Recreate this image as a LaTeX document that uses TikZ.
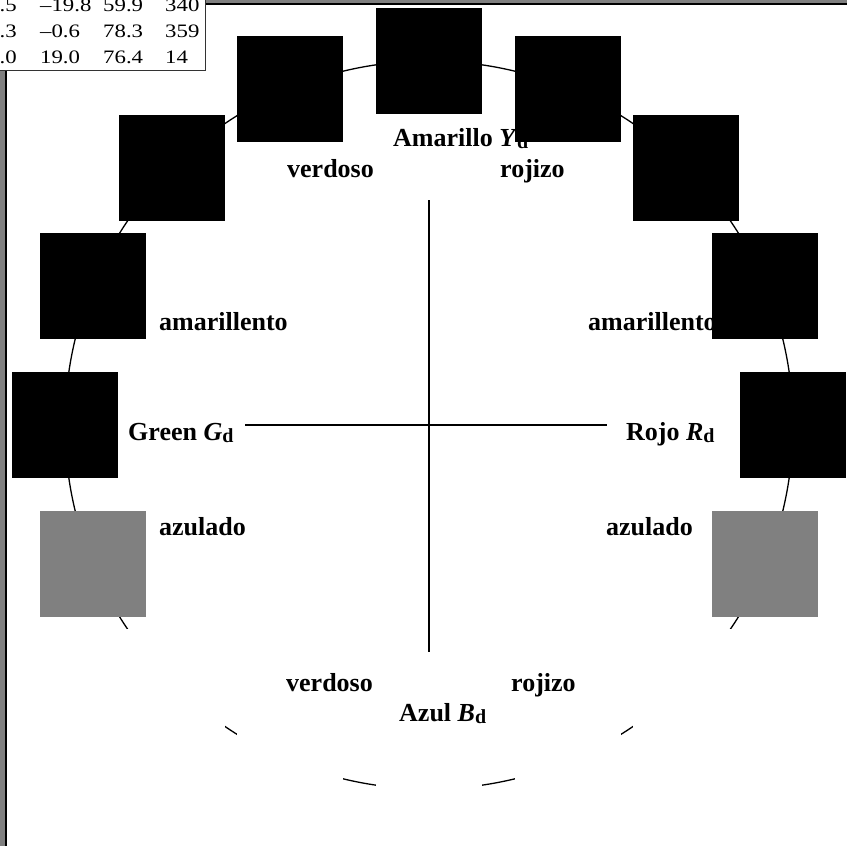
\documentclass[tikz,border=0pt]{standalone}
\usepackage{fontspec}
\setmainfont{Liberation Serif}
\newfontfamily\tabfont[FakeStretch=1.2]{Liberation Serif}
\usetikzlibrary{calc}
\newcommand{\sbd}{\raisebox{-2.5pt}{\fontsize{20}{20}\selectfont d}}
\begin{document}
\begin{tikzpicture}[x=1pt,y=-1pt,
  sq/.style={minimum size=106pt,inner sep=0pt,outer sep=0pt,draw=none},
  lab/.style={anchor=base west,inner sep=0pt,font=\fontsize{26}{30}\selectfont\bfseries},
  tab/.style={anchor=base west,inner sep=0pt,font=\tabfont\fontsize{19}{20}\selectfont},
  tabr/.style={anchor=base east,inner sep=0pt,font=\tabfont\fontsize{19}{20}\selectfont},
  axis/.style={line width=1.5pt},
  ring/.style={line width=1.3pt}]
\useasboundingbox (0,0) rectangle (847,846);
\fill[white] (0,0) rectangle (847,846);
\coordinate (c) at (429,425);
% circle
\draw[ring] (c) circle (364pt);
% axes
\coordinate (hL) at (245,425);
\coordinate (hR) at (607,425);
\coordinate (vT) at (429,200);
\coordinate (vB) at (429,652);
\draw[axis] (hL) -- (hR);
\draw[axis] (vT) -- (vB);
% labels
\node[lab] (amarillo) at (393,146) {Amarillo \textit{Y}\sbd};
\node[lab] (verdU) at (287,177) {verdoso};
\node[lab] (rojU) at (500,177) {rojizo};
\node[lab] (amaL) at (159,330) {amarillento};
\node[lab] (amaR) at (588,330) {amarillento};
\node[lab] (green) at (128,440) {Green \textit{G}\sbd};
\node[lab] (rojo) at (626,440) {Rojo \textit{R}\sbd};
\node[lab] (azuL) at (159,535) {azulado};
\node[lab] (azuR) at (606,535) {azulado};
\node[lab] (verdD) at (286,691) {verdoso};
\node[lab] (rojD) at (511,691) {rojizo};
\node[lab] (azul) at (399,721) {Azul \textit{B}\sbd};
% squares
\foreach \a/\col/\n in {0/black/s0,22.5/black/s1,45/black/s2,67.5/black/s3,90/black/s4,112.5/black/s5,135/black/s6,157.5/black/s7,180/black/s8,202.5/gray/s9,225/white/s10,247.5/white/s11,270/white/s12,292.5/white/s13,315/white/s14,337.5/gray/s15}{
  \node[sq,fill=\col] (\n) at ($(c)+({364*cos(\a)},{-364*sin(\a)})$) {};
}
% frame
\fill[gray] (0,0) rectangle (847,2.5);
\fill[gray] (0,0) rectangle (5,846);
\draw[line width=2pt] (6,3.5) -- (847,3.5);
\draw[line width=2pt] (6,3.5) -- (6,846);
% table
\draw[fill=white,line width=1pt,draw=black!80] (-5,-5) rectangle (205.5,70.5);
\node[tabr] (t11) at (17,11) {5.5};
\node[tab] (t12) at (40,11) {\textendash19.8};
\node[tab] (t13) at (103,11) {59.9};
\node[tab] (t14) at (165,11) {340};
\node[tabr] (t21) at (17,37) {3.3};
\node[tab] (t22) at (40,37) {\textendash0.6};
\node[tab] (t23) at (103,37) {78.3};
\node[tab] (t24) at (165,37) {359};
\node[tabr] (t31) at (17,63) {4.0};
\node[tab] (t32) at (40,63) {19.0};
\node[tab] (t33) at (103,63) {76.4};
\node[tab] (t34) at (165,63) {14};
\end{tikzpicture}
\end{document}
